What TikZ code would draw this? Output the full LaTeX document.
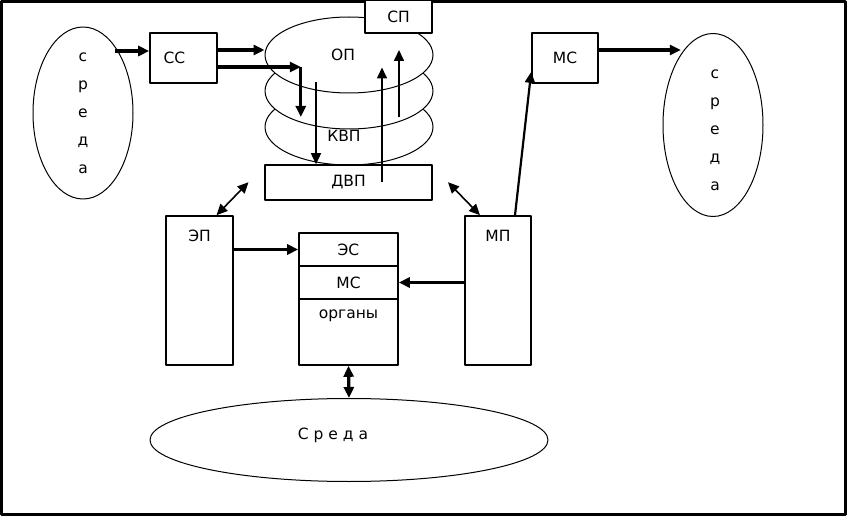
\documentclass[tikz,border=0pt]{standalone}
\usepackage{fontspec}
\setmainfont{DejaVu Sans}
\usetikzlibrary{arrows.meta,shapes.geometric}

\begin{document}
\begin{tikzpicture}[x=1pt, y=-1pt, font=\fontsize{15.5}{28}\selectfont, line join=round, >={Triangle[length=11pt,width=10pt]},
	box/.style={draw, line width=1.6pt, fill=white, rectangle, inner sep=0pt},
	oval/.style={draw, line width=1pt, fill=white, ellipse, inner sep=0pt},
	thk/.style={line width=3.2pt},
	med/.style={line width=2.2pt},
	thn/.style={line width=1.6pt}]
	\useasboundingbox (0,0) rectangle (847,516);
	\draw[line width=3pt] (1.5,1.5) rectangle (845.5,514.5);
	% left side
	\node[oval, minimum width=100pt, minimum height=172pt, label={[align=center]center:с\\р\\е\\д\\а}] (sreda1) at (83,113) {};
	\node[box, minimum width=67pt, minimum height=50pt, label={[xshift=-9pt]center:СС}] (ss) at (183.5,58) {};
	% stack of layers
	\node[oval, minimum width=168pt, minimum height=76pt] (low) at (349,127) {};
	\node[oval, minimum width=168pt, minimum height=76pt] (mid) at (349,91) {};
	\node[oval, minimum width=168pt, minimum height=76pt, label={[xshift=-6pt]center:ОП}] (op) at (349,55) {};
	\node[box, minimum width=67pt, minimum height=33pt] (sp) at (398.5,16.5) {СП};
	\node[box, minimum width=167pt, minimum height=35pt] (dvp) at (348.5,182.5) {ДВП};
	\node (kvp) at (344,136) {КВП};
	% middle row
	\node[box, minimum width=67pt, minimum height=149pt, label={[below=11pt]north:ЭП}] (ep) at (199.5,290.5) {};
	\node[box, minimum width=99pt, minimum height=33pt] (es) at (348.5,249.5) {ЭС};
	\node[box, minimum width=99pt, minimum height=33pt] (msc) at (348.5,282.5) {МС};
	\node[box, minimum width=99pt, minimum height=66pt, label={[below=8pt]north:органы}] (org) at (348.5,332) {};
	\node[box, minimum width=66pt, minimum height=149pt, label={[below=11pt]north:МП}] (mp) at (498,290.5) {};
	% right side
	\node[box, minimum width=66pt, minimum height=50pt] (ms) at (565,58) {МС};
	\node[oval, minimum width=100pt, minimum height=183pt, label={[align=center,xshift=2pt,yshift=-5pt]center:с\\р\\е\\д\\а}] (sreda2) at (713,125) {};
	% bottom
	\node[oval, minimum width=398pt, minimum height=83pt, label={[xshift=-16pt,yshift=5pt]center:С р е д а}] (sreda3) at (349,440) {};
	% connectors
	\path ([yshift=-9pt]ss.east) ++(83,0) coordinate (bend);
	\draw[thk,<-] ([yshift=7pt]ss.west) -- ++(-34,0);
	\draw[thk,->] ([yshift=8pt]ss.east) -- ([yshift=8pt]ss.east -| op.west);
	\draw[thk,->] ([yshift=-9pt]ss.east) -- (bend);
	\draw[thk,->] (bend) -- ++(0,50);
	\draw[thn,<-] ([xshift=-32.5pt]dvp.north) -- ++(0,-82);
	\draw[thn,->] ([xshift=33.5pt]dvp.center) -- ++(0,-115);
	\draw[thn,->] ([xshift=50pt,yshift=-26pt]mid.center) -- ++(0,-67);
	\draw[thn,<->] ([xshift=17pt]ep.north) -- ++(32,-33);
	\draw[thk,->] (ep.east |- es.west) -- (es.west);
	\draw[thk,->] (mp.west |- msc.east) -- (msc.east);
	\draw[thn,<->] ([xshift=-18pt]mp.north) -- ++(-32,-33);
	\draw[med,->] ([xshift=17pt]mp.north) -- ([yshift=12pt]ms.south west);
	\draw[thk,->] ([yshift=8pt]ms.east) -- ++(82,0);
	\draw[thk,<->] (org.south) -- (sreda3.north);
\end{tikzpicture}
\end{document}
